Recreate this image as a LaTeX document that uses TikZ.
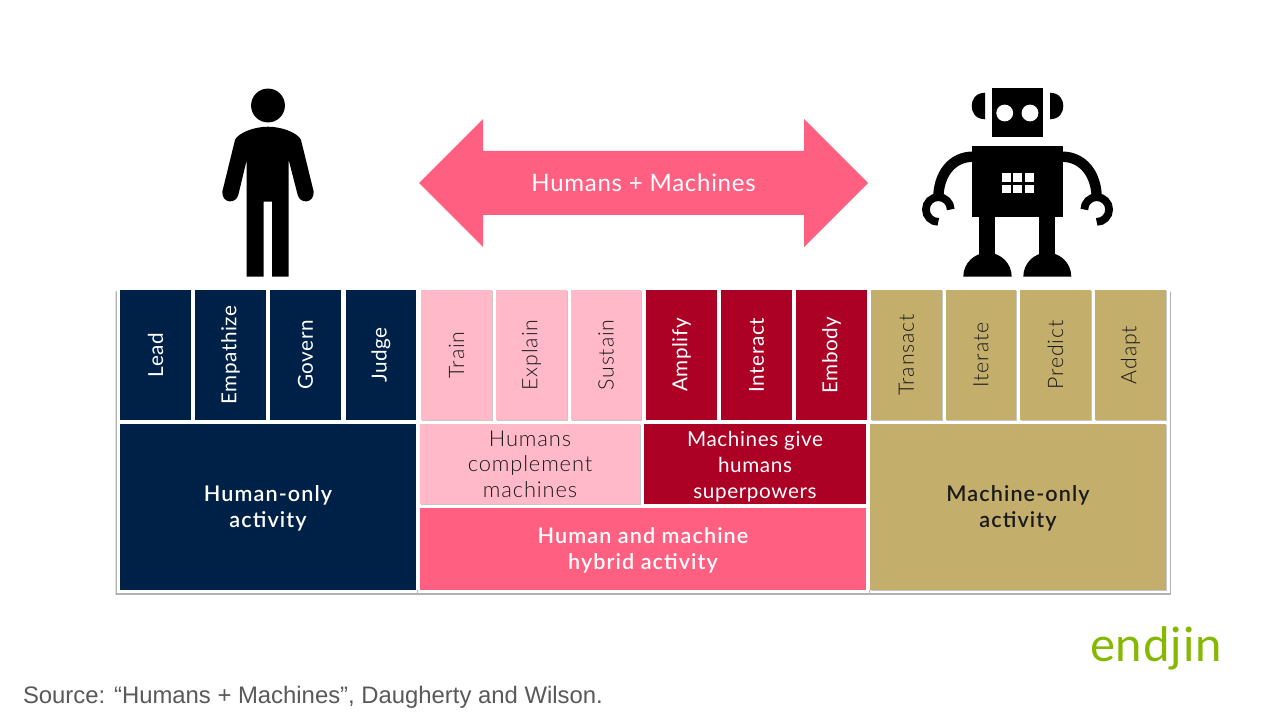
\documentclass[tikz,border=0pt]{standalone}
\usepackage{fontspec}
\setmainfont{Lato}
\newfontfamily\lightfont[LetterSpace=4]{Lato Light}
\newfontfamily\regfont[LetterSpace=3]{Lato}
\newfontfamily\medfont[LetterSpace=5]{Lato Semibold}
\newfontfamily\logofont[LetterSpace=2]{Lato}
\newfontfamily\srcfont{Liberation Sans}
\usetikzlibrary{shadows}
\definecolor{navy}{HTML}{002147}
\definecolor{lpink}{HTML}{FFB9C9}
\definecolor{crim}{HTML}{AC0024}
\definecolor{hot}{HTML}{FF5F80}
\definecolor{tan}{HTML}{C4AE6C}
\definecolor{ink}{HTML}{1A1A1A}
\tikzset{
 x=0.75pt,y=-0.75pt,
 softsh/.style={drop shadow={shadow xshift=0.7pt,shadow yshift=-0.7pt,opacity=.22,fill=black}},
 box/.style={inner sep=0,outer sep=0,align=center,draw=none},
 vt/.style={box,rotate=90,minimum width=97.5pt},
 vnavy/.style={vt,fill=navy,text=white,font=\regfont\fontsize{15.5}{16}\selectfont},
 vlp/.style={vt,fill=lpink,text=ink,softsh,font=\lightfont\fontsize{16}{16}\selectfont},
 vcr/.style={vt,fill=crim,text=white,font=\regfont\fontsize{15.5}{16}\selectfont},
 vtan/.style={vt,fill=tan,text=ink,softsh,font=\lightfont\fontsize{16}{16}\selectfont},
 big/.style={box,font=\medfont\fontsize{16.2}{19.5}\selectfont},
 mid/.style={box,font=\lightfont\fontsize{16.4}{19.3}\selectfont},
 midw/.style={box,font=\regfont\fontsize{15.5}{19.6}\selectfont},
 blk/.style={fill=black,draw=none},
}
\begin{document}
\begin{tikzpicture}
\useasboundingbox (0,0) rectangle (1280,720);
\fill[white] (0,0) rectangle (1280,720);
% outer panel
\fill[black!12] (115,291) rectangle (1171,595);
\fill[black!30] (116,292) rectangle (1170.5,594.5);
\fill[white] (116.5,289) rectangle (1169.5,593);
\draw[black!25,line width=0.5pt] (417,590) -- (417,594);
\draw[black!25,line width=0.5pt] (869,590) -- (869,594);
% person
\fill[blk] (268,105.5) circle[radius=12.7pt];
\fill[blk] (246.7,276.7) -- (246.7,160) -- (238.3,195)
  .. controls (236,204) and (222,204) .. (222.3,191.7)
  -- (235,140) .. controls (238,133) and (254,126.7) .. (268,126.7)
  .. controls (282,126.7) and (298,133) .. (301,140)
  -- (313.7,191.7) .. controls (314,204) and (300,204) .. (297.7,195)
  -- (288.7,160) -- (288.7,276.7) -- (272,276.7) -- (272,201.7) -- (263.7,201.7) -- (263.7,276.7) -- cycle;
% robot
\fill[blk] (991.7,88.3) rectangle (1043.3,137.3);
\fill[white] (1004.7,113) circle[radius=6.3pt];
\fill[white] (1030,113) circle[radius=6.3pt];
\fill[blk] (985,92.7) .. controls (975,93) and (971.7,100) .. (971.7,106) .. controls (971.7,112) and (975,119) .. (985,119.3) -- cycle;
\fill[blk] (1050,92.7) .. controls (1060,93) and (1063.3,100) .. (1063.3,106) .. controls (1063.3,112) and (1060,119) .. (1050,119.3) -- cycle;
\fill[blk] (971.7,145.7) rectangle (1063.3,216.7);
\foreach \cx in {1001.7,1013,1024.5}{\foreach \cy in {173.3,184.7}{\fill[white] (\cx,\cy) rectangle ++(9,8.7);}}
\fill[blk] (979.3,216) rectangle (995.3,258);
\fill[blk] (1039.3,216) rectangle (1055,258);
\fill[blk] (963.3,276.7) .. controls (963.3,263.4) and (974.2,252.7) .. (987.5,252.7) .. controls (1000.8,252.7) and (1011.7,263.4) .. (1011.7,276.7) -- cycle;
\fill[blk] (1023.3,276.7) .. controls (1023.3,263.4) and (1034,252.7) .. (1047.3,252.7) .. controls (1060.6,252.7) and (1071.3,263.4) .. (1071.3,276.7) -- cycle;
\draw[line width=7.8pt,black] (972.5,156.7) .. controls (952,157) and (938.5,174) .. (938.3,198);
\draw[line width=7.8pt,black] (1062.5,156.7) .. controls (1083,157) and (1096.5,174) .. (1096.7,198);
\draw[line width=5.8pt,black] (950.7,209.5) arc[start angle=0,end angle=270,radius=9.3pt];
\draw[line width=5.8pt,black] (1084.3,209.5) arc[start angle=180,end angle=-90,radius=9.3pt];
% arrow
\fill[hot] (419,183) -- (483,119) -- (483,151) -- (804,151) -- (804,119) -- (868,183) -- (804,247) -- (804,215) -- (483,215) -- (483,247) -- cycle;
\node[box,text=white,font=\regfont\fontsize{18}{18}\selectfont] (arrowlabel) at (643.5,183) {Humans + Machines};
% top tiles
\node[vnavy,minimum height=53.25pt] (lead) at (155.5,355) {Lead};
\node[vnavy,minimum height=53.25pt] (emp) at (230.5,355) {Empathize};
\node[vnavy,minimum height=53.25pt] (gov) at (305.5,355) {Govern};
\node[vnavy,minimum height=52.5pt] (jud) at (381,355) {Judge};
\node[vlp,minimum height=53.25pt] (train) at (456.5,355) {Train};
\node[vlp,minimum height=53.25pt] (expl) at (531.5,355) {Explain};
\node[vlp,minimum height=52.5pt] (sus) at (606,355) {Sustain};
\node[vcr,minimum height=53.25pt] (amp) at (681.5,355) {Amplify};
\node[vcr,minimum height=53.25pt] (inter) at (756.5,355) {Interact};
\node[vcr,minimum height=53.25pt] (emb) at (831.5,355) {Embody};
\node[vtan,minimum height=53.25pt] (trans) at (906.5,355) {Transact};
\node[vtan,minimum height=52.5pt] (iter) at (981,355) {Iterate};
\node[vtan,minimum height=53.25pt] (pred) at (1055.5,355) {Predict};
\node[vtan,minimum height=53.25pt] (adapt) at (1130.5,355) {Adapt};
% lower blocks
\node[big,fill=navy,text=white,minimum width=222pt,minimum height=124.5pt] (human) at (268,507) {\rule{0pt}{14pt}Human-only\\activity};
\node[mid,fill=lpink,text=ink,minimum width=165pt,minimum height=60pt,softsh] (compl) at (530,464) {\rule{0pt}{12pt}Humans\\complement\\machines};
\node[midw,fill=crim,text=white,minimum width=166.5pt,minimum height=60pt] (super) at (755,464) {\rule{0pt}{15pt}Machines give\\humans\\superpowers};
\node[big,fill=hot,text=white,minimum width=334.5pt,minimum height=61.5pt] (hybrid) at (643,549) {\rule{0pt}{14pt}Human and machine\\hybrid activity};
\node[big,fill=tan,text=ink,minimum width=222pt,minimum height=124.5pt,softsh] (machine) at (1018,507) {\rule{0pt}{14pt}Machine-only\\activity};
% logo and source
\node[box,anchor=base west,text={rgb,255:red,134;green,184;blue,0},font=\logofont\fontsize{35.5}{36}\selectfont] (logo) at (1090,661) {endjin};
\node[box,anchor=base west,text={rgb,255:red,89;green,89;blue,89},font=\srcfont\fontsize{17.9}{18}\selectfont] (src) at (23,703) {Source: “Humans + Machines”, Daugherty and Wilson.};
\end{tikzpicture}
\end{document}
